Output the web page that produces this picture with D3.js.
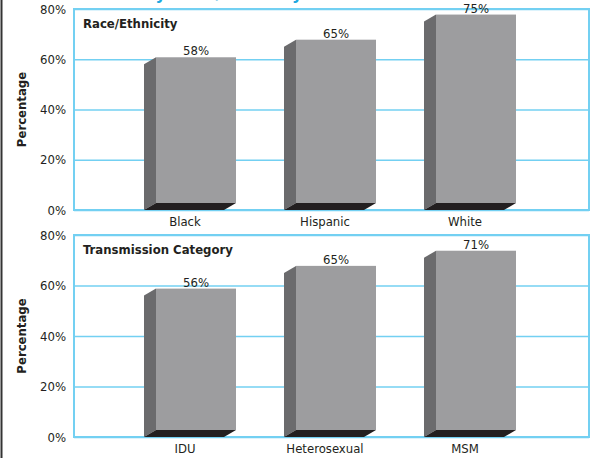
<!DOCTYPE html>
<html><head><meta charset="utf-8">
<script src="https://cdn.jsdelivr.net/npm/d3@7"></script>
<style>
html,body{margin:0;padding:0;background:#fff;}
svg{display:block;}
text{font-family:"DejaVu Sans Condensed","Liberation Sans Narrow",sans-serif;}
</style></head>
<body>
<script>
const raceCats = ["Black", "Hispanic", "White"];
const raceVals = [58, 65, 75];
const transCats = ["IDU", "Heterosexual", "MSM"];
const transVals = [56, 65, 71];
const yTicks = [0, 20, 40, 60, 80];
const yLabel = "Percentage";
const panelTitles = ["Race/Ethnicity", "Transmission Category"];
const chartTitle = "Survival by Race/Ethnicity";

const W = 592, H = 458;
const svg = d3.select("body").append("svg").attr("width", W).attr("height", H);

const blue = "#73d0f2";
const front = "#9d9d9f", side = "#6b6b6d", floor = "#231f20";
const dx = 12, dy = 7;
const left = 74, right = 589;

// left border
svg.append("line").attr("x1", 1.5).attr("x2", 1.5).attr("y1", 0).attr("y2", H)
  .attr("stroke", "#333").attr("stroke-width", 2);

// title, cut off at the top edge (only descenders visible)
svg.append("text").attr("x", 64).attr("y", -1)
  .attr("fill", "#1fa8e0").attr("font-weight", "bold").attr("font-size", 18)
  .text(chartTitle);

function panel(top, bottom, cats, vals, title) {
  const g = svg.append("g");
  const y = d3.scaleLinear().domain([0, 80]).range([bottom, top]);
  const x = d3.scaleBand().domain(cats).range([114, 534])
    .paddingInner(60 / 140).paddingOuter(30 / 140);

  g.append("rect").attr("x", left).attr("y", top)
    .attr("width", right - left).attr("height", bottom - top)
    .attr("fill", "none").attr("stroke", blue).attr("stroke-width", 2);

  const ax = g.append("g").attr("transform", `translate(${left},0)`)
    .call(d3.axisLeft(y).tickValues(yTicks).tickFormat(d => d + "%")
      .tickSize(-(right - left)).tickPadding(8));
  ax.select(".domain").remove();
  ax.selectAll(".tick line").attr("stroke", blue).attr("stroke-width", 1.5);
  ax.selectAll(".tick text").attr("font-size", 13).attr("fill", "#231f20")
    .attr("font-family", "DejaVu Sans Condensed, sans-serif");

  g.append("text")
    .attr("transform", `translate(26,${(top + bottom) / 2}) rotate(-90)`)
    .attr("text-anchor", "middle").attr("font-weight", "bold").attr("font-size", 13)
    .attr("fill", "#231f20").text(yLabel);

  g.append("text").attr("x", 83).attr("y", top + 19)
    .attr("font-weight", "bold").attr("font-size", 13).attr("fill", "#231f20")
    .text(title);

  const data = cats.map((c, i) => ({ c, v: vals[i] }));
  const y0 = y(0);
  const bw = x.bandwidth();
  const bars = g.selectAll(".bar").data(data).enter().append("g");
  bars.append("path").attr("fill", side).attr("d", d => {
    const x0 = x(d.c), yv = y(d.v);
    return `M${x0},${yv}L${x0 + dx},${yv - dy}L${x0 + dx},${y0 - dy}L${x0},${y0}Z`;
  });
  bars.append("rect").attr("fill", front)
    .attr("x", d => x(d.c) + dx).attr("y", d => y(d.v) - dy)
    .attr("width", bw).attr("height", d => y0 - y(d.v));
  bars.append("path").attr("fill", floor).attr("d", d => {
    const x0 = x(d.c);
    return `M${x0},${y0}L${x0 + dx},${y0 - dy}L${x0 + dx + bw},${y0 - dy}L${x0 + bw},${y0}Z`;
  });
  bars.append("text").attr("x", d => x(d.c) + dx + bw / 2).attr("y", d => y(d.v) - dy - 2)
    .attr("text-anchor", "middle").attr("font-size", 13).attr("fill", "#231f20")
    .text(d => d.v + "%");
  bars.append("text").attr("x", d => x(d.c) + bw / 2 + 1).attr("y", y0 + 16)
    .attr("text-anchor", "middle").attr("font-size", 13).attr("fill", "#231f20")
    .text(d => d.c);
}

panel(9, 210, raceCats, raceVals, panelTitles[0]);
panel(235, 437, transCats, transVals, panelTitles[1]);
</script>
</body></html>
